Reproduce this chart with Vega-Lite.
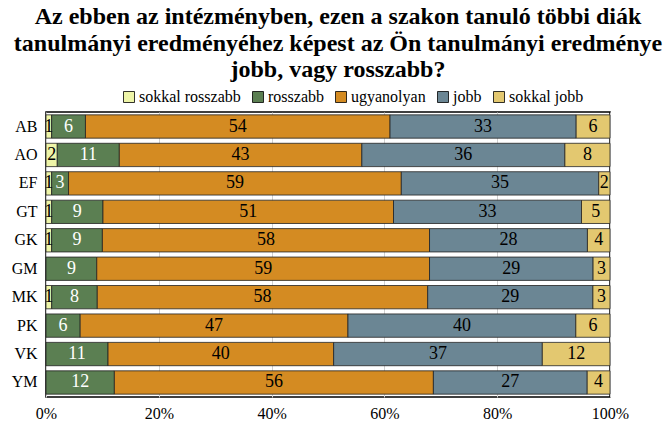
{
  "$schema": "https://vega.github.io/schema/vega-lite/v6.json",
  "width": 564,
  "height": 285,
  "autosize": "none",
  "padding": {"left": 46, "top": 112, "right": 61, "bottom": 28},
  "background": "white",
  "title": {
    "text": ["Az ebben az intézményben, ezen a szakon tanuló többi diák", "tanulmányi eredményéhez képest az Ön tanulmányi eredménye", "jobb, vagy rosszabb?"],
    "font": "Liberation Serif",
    "fontSize": 24,
    "fontWeight": "bold",
    "color": "black",
    "anchor": "middle",
    "dx": 10,
    "offset": 7,
    "lineHeight": 26.5
  },
  "config": {
    "view": {"stroke": "black", "strokeWidth": 1.5},
    "font": "Liberation Serif"
  },
  "data": {
    "values": [
      {"g": "AB", "c": "sokkal rosszabb", "k": 1, "v": 1},
      {"g": "AB", "c": "rosszabb", "k": 2, "v": 6},
      {"g": "AB", "c": "ugyanolyan", "k": 3, "v": 54},
      {"g": "AB", "c": "jobb", "k": 4, "v": 33},
      {"g": "AB", "c": "sokkal jobb", "k": 5, "v": 6},
      {"g": "AO", "c": "sokkal rosszabb", "k": 1, "v": 2},
      {"g": "AO", "c": "rosszabb", "k": 2, "v": 11},
      {"g": "AO", "c": "ugyanolyan", "k": 3, "v": 43},
      {"g": "AO", "c": "jobb", "k": 4, "v": 36},
      {"g": "AO", "c": "sokkal jobb", "k": 5, "v": 8},
      {"g": "EF", "c": "sokkal rosszabb", "k": 1, "v": 1},
      {"g": "EF", "c": "rosszabb", "k": 2, "v": 3},
      {"g": "EF", "c": "ugyanolyan", "k": 3, "v": 59},
      {"g": "EF", "c": "jobb", "k": 4, "v": 35},
      {"g": "EF", "c": "sokkal jobb", "k": 5, "v": 2},
      {"g": "GT", "c": "sokkal rosszabb", "k": 1, "v": 1},
      {"g": "GT", "c": "rosszabb", "k": 2, "v": 9},
      {"g": "GT", "c": "ugyanolyan", "k": 3, "v": 51},
      {"g": "GT", "c": "jobb", "k": 4, "v": 33},
      {"g": "GT", "c": "sokkal jobb", "k": 5, "v": 5},
      {"g": "GK", "c": "sokkal rosszabb", "k": 1, "v": 1},
      {"g": "GK", "c": "rosszabb", "k": 2, "v": 9},
      {"g": "GK", "c": "ugyanolyan", "k": 3, "v": 58},
      {"g": "GK", "c": "jobb", "k": 4, "v": 28},
      {"g": "GK", "c": "sokkal jobb", "k": 5, "v": 4},
      {"g": "GM", "c": "rosszabb", "k": 2, "v": 9},
      {"g": "GM", "c": "ugyanolyan", "k": 3, "v": 59},
      {"g": "GM", "c": "jobb", "k": 4, "v": 29},
      {"g": "GM", "c": "sokkal jobb", "k": 5, "v": 3},
      {"g": "MK", "c": "sokkal rosszabb", "k": 1, "v": 1},
      {"g": "MK", "c": "rosszabb", "k": 2, "v": 8},
      {"g": "MK", "c": "ugyanolyan", "k": 3, "v": 58},
      {"g": "MK", "c": "jobb", "k": 4, "v": 29},
      {"g": "MK", "c": "sokkal jobb", "k": 5, "v": 3},
      {"g": "PK", "c": "rosszabb", "k": 2, "v": 6},
      {"g": "PK", "c": "ugyanolyan", "k": 3, "v": 47},
      {"g": "PK", "c": "jobb", "k": 4, "v": 40},
      {"g": "PK", "c": "sokkal jobb", "k": 5, "v": 6},
      {"g": "VK", "c": "rosszabb", "k": 2, "v": 11},
      {"g": "VK", "c": "ugyanolyan", "k": 3, "v": 40},
      {"g": "VK", "c": "jobb", "k": 4, "v": 37},
      {"g": "VK", "c": "sokkal jobb", "k": 5, "v": 12},
      {"g": "YM", "c": "rosszabb", "k": 2, "v": 12},
      {"g": "YM", "c": "ugyanolyan", "k": 3, "v": 56},
      {"g": "YM", "c": "jobb", "k": 4, "v": 27},
      {"g": "YM", "c": "sokkal jobb", "k": 5, "v": 4}
    ]
  },
  "encoding": {
    "y": {
      "field": "g",
      "type": "nominal",
      "sort": null,
      "scale": {"paddingInner": 0.18, "paddingOuter": 0.1},
      "axis": {
        "title": null,
        "ticks": false,
        "domain": false,
        "labelFont": "Liberation Serif",
        "labelFontSize": 16,
        "labelColor": "black",
        "labelPadding": 9
      }
    },
    "order": {"field": "k", "type": "quantitative"}
  },
  "layer": [
    {
      "mark": {"type": "bar", "stroke": "#222222", "strokeWidth": 0.8},
      "encoding": {
        "x": {
          "field": "v",
          "type": "quantitative",
          "stack": "normalize",
          "scale": {"domain": [0, 1], "nice": false},
          "axis": {
            "title": null,
            "values": [0, 0.2, 0.4, 0.6, 0.8, 1],
            "format": ".0%",
            "ticks": false,
            "domain": false,
            "grid": true,
            "gridColor": "#d0d0d0",
            "gridWidth": 1,
            "labelFont": "Liberation Serif",
            "labelFontSize": 16,
            "labelColor": "black",
            "labelPadding": 8,
            "labelFlush": false
          }
        },
        "color": {
          "field": "c",
          "type": "nominal",
          "scale": {
            "domain": ["sokkal rosszabb", "rosszabb", "ugyanolyan", "jobb", "sokkal jobb"],
            "range": ["#eef5a8", "#5b7f52", "#d48b22", "#6b8694", "#e3c870"]
          },
          "legend": {
            "title": null,
            "orient": "none",
            "direction": "horizontal",
            "legendX": 75,
            "legendY": -23,
            "symbolType": "square",
            "symbolSize": 121,
            "symbolStrokeColor": "black",
            "symbolStrokeWidth": 0.8,
            "symbolOpacity": 1,
            "labelFont": "Liberation Serif",
            "labelFontSize": 16,
            "labelColor": "black",
            "labelOffset": 2,
            "columnPadding": 9
          }
        }
      }
    },
    {
      "mark": {"type": "text", "font": "Liberation Serif", "fontSize": 18, "baseline": "middle", "align": "center"},
      "encoding": {
        "x": {
          "field": "v",
          "type": "quantitative",
          "stack": "normalize",
          "bandPosition": 0.5
        },
        "text": {"field": "v", "type": "quantitative"},
        "color": {
          "condition": {"test": "datum.c === 'rosszabb'", "value": "white"},
          "value": "black"
        }
      }
    }
  ]
}
